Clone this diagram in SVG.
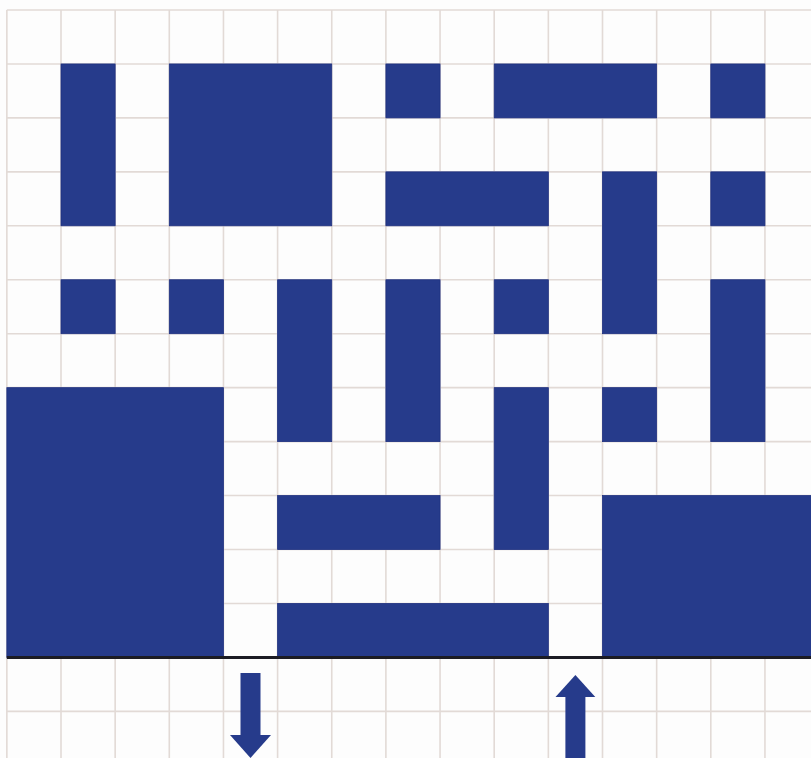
<svg xmlns="http://www.w3.org/2000/svg" width="811" height="758" viewBox="0 0 811 758">
<style>
.g{stroke:#e2dad6;stroke-width:1.6}
.p{fill:#263b8b;stroke:#1f3180;stroke-width:0.8}
.a{fill:#263b8b}
</style>
<rect x="0" y="0" width="811" height="758" fill="#fdfdfd"/>
<g id="grid">
<path class="g" d="M6.85 10V758M61 10V758M115.15 10V758M169.3 10V758M223.45 10V758M277.6 10V758M331.75 10V758M385.9 10V758M440.05 10V758M494.2 10V758M548.35 10V758M602.5 10V758M656.65 10V758M710.8 10V758M764.95 10V758"/>
<path class="g" d="M6.85 10H811M6.85 63.95H811M6.85 117.9H811M6.85 171.85H811M6.85 225.8H811M6.85 279.75H811M6.85 333.7H811M6.85 387.65H811M6.85 441.6H811M6.85 495.55H811M6.85 549.5H811M6.85 603.45H811M6.85 711.35H811"/>
</g>
<g id="pieces">
<rect id="p1" class="p" x="61" y="63.95" width="54.15" height="161.85"/>
<rect id="p2" class="p" x="169.3" y="63.95" width="162.45" height="161.85"/>
<rect id="p3" class="p" x="385.9" y="63.95" width="54.15" height="53.95"/>
<rect id="p4" class="p" x="494.2" y="63.95" width="162.45" height="53.95"/>
<rect id="p5" class="p" x="710.8" y="63.95" width="54.15" height="53.95"/>
<rect id="p6" class="p" x="385.9" y="171.85" width="162.45" height="53.95"/>
<rect id="p7" class="p" x="602.5" y="171.85" width="54.15" height="161.85"/>
<rect id="p8" class="p" x="710.8" y="171.85" width="54.15" height="53.95"/>
<rect id="p9" class="p" x="61" y="279.75" width="54.15" height="53.95"/>
<rect id="p10" class="p" x="169.3" y="279.75" width="54.15" height="53.95"/>
<rect id="p11" class="p" x="277.6" y="279.75" width="54.15" height="161.85"/>
<rect id="p12" class="p" x="385.9" y="279.75" width="54.15" height="161.85"/>
<rect id="p13" class="p" x="494.2" y="279.75" width="54.15" height="53.95"/>
<rect id="p14" class="p" x="710.8" y="279.75" width="54.15" height="161.85"/>
<rect id="p15" class="p" x="6.85" y="387.65" width="216.6" height="269.75"/>
<rect id="p16" class="p" x="494.2" y="387.65" width="54.15" height="161.85"/>
<rect id="p17" class="p" x="602.5" y="387.65" width="54.15" height="53.95"/>
<rect id="p18" class="p" x="277.6" y="495.55" width="162.45" height="53.95"/>
<rect id="p19" class="p" x="602.5" y="495.55" width="209" height="161.85"/>
<rect id="p20" class="p" x="277.6" y="603.45" width="270.75" height="53.95"/>
</g>
<g id="connectors">
<line x1="6.85" y1="657.4" x2="811" y2="657.4" stroke="#1c1c24" stroke-width="3"/>
<g id="arrow-out">
<rect class="a" x="240.5" y="673" width="20" height="63"/>
<polygon class="a" points="230,735 271,735 250.5,758"/>
</g>
<g id="arrow-in">
<polygon class="a" points="575.4,675 555.5,697 595.3,697"/>
<rect class="a" x="565.4" y="696" width="20" height="62"/>
</g>
</g>
</svg>
